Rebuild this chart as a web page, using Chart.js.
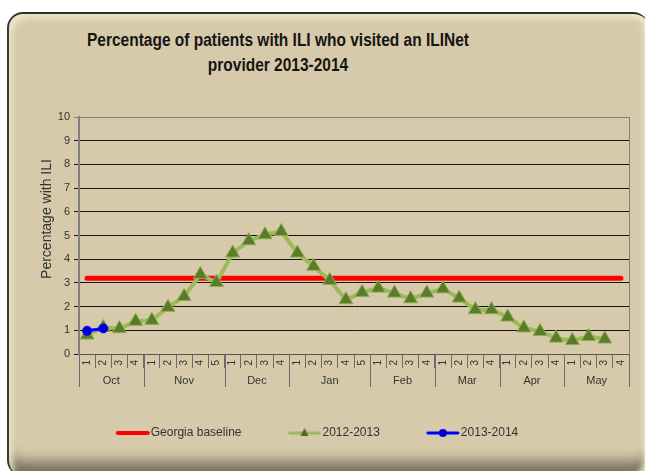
<!DOCTYPE html>
<html>
<head>
<meta charset="utf-8">
<script src="https://cdn.jsdelivr.net/npm/chart.js@4.4.1/dist/chart.umd.min.js"></script>
<style>
  body { margin: 0; background: #fff; width: 645px; height: 471px; overflow: hidden; position: relative; }
  #frame {
    position: absolute; left: 7px; top: 12px; width: 640px; height: 462px;
    border-radius: 16px; background: #D6CAAA;
    border-top: 2px solid #2e2e2a; border-left: 2px solid #3a3a34;
    box-shadow: inset 6px 6px 6px -2px #efe5c8, inset -7px 0 6px -2px #f6efd6, inset 0 -20px 14px -6px #6f6d5c;
  }
  #title {
    position: absolute; left: 0; top: 28px; width: 556px; text-align: center;
    font: bold 18px "Liberation Sans", Arial, sans-serif; line-height: 25px; color: #151515;
    transform: scaleX(0.86);
  }
  #chart { position: absolute; left: 0; top: 0; }
</style>
</head>
<body>
<div id="frame"></div>
<div id="title">Percentage of patients with ILI who visited an ILINet<br>provider 2013-2014</div>
<canvas id="chart" width="645" height="471"></canvas>
<script>
// weeks of the flu season, grouped by month
const weekLabels = ['1','2','3','4', '1','2','3','4','5', '1','2','3','4', '1','2','3','4','5',
                    '1','2','3','4', '1','2','3','4', '1','2','3','4', '1','2','3','4'];
const months = ['Oct', 'Nov', 'Dec', 'Jan', 'Feb', 'Mar', 'Apr', 'May'];
const weeksPerMonth = [4, 5, 4, 5, 4, 4, 4, 4];

const georgiaBaseline = [3.2,3.2,3.2,3.2, 3.2,3.2,3.2,3.2,3.2, 3.2,3.2,3.2,3.2, 3.2,3.2,3.2,3.2,3.2,
                         3.2,3.2,3.2,3.2, 3.2,3.2,3.2,3.2, 3.2,3.2,3.2,3.2, 3.2,3.2,3.2,3.2];
const season1213 = [0.8, 1.12, 1.07, 1.38,  1.42, 1.97, 2.43, 3.35, 3.02,  4.26, 4.78, 5.03, 5.17,
                    4.26, 3.7, 3.1, 2.29, 2.6,  2.78, 2.57, 2.33, 2.57,  2.75, 2.36, 1.87, 1.87,
                    1.56, 1.1, 0.95, 0.67,  0.57, 0.74, 0.63, null];
const season1314 = [0.98, 1.08];

const FONT = '"Liberation Sans", Arial, sans-serif';
const TEXT = '#333';

// little line+marker pictures for the legend
// (canvas is wider than the legend box so the line sits right against the text)
function legendIcon(color, width, marker) {
  const c = document.createElement('canvas');
  c.width = 44; c.height = 12;
  const ctx = c.getContext('2d');
  ctx.strokeStyle = color;
  ctx.lineWidth = width;
  ctx.lineCap = 'round';
  ctx.beginPath(); ctx.moveTo(12, 6); ctx.lineTo(42, 6); ctx.stroke();
  if (marker === 'triangle') {
    ctx.fillStyle = '#4f6a22';
    ctx.beginPath(); ctx.moveTo(27, 1); ctx.lineTo(31, 9); ctx.lineTo(23, 9); ctx.closePath(); ctx.fill();
  } else if (marker === 'circle') {
    ctx.fillStyle = '#0000cc';
    ctx.beginPath(); ctx.arc(27, 6, 4, 0, Math.PI * 2); ctx.fill();
  }
  return c;
}
const icons = [legendIcon('#ff0000', 4, null), legendIcon('#9bbb59', 3, 'triangle'), legendIcon('#0000ff', 3, 'circle')];

// month row under the week numbers, plus the y title and right border
const monthAxis = {
  id: 'monthAxis',
  afterDraw(chart) {
    const ctx = chart.ctx;
    const x = chart.scales.x;
    const area = chart.chartArea;
    const half = (x.getPixelForValue(1) - x.getPixelForValue(0)) / 2;
    ctx.save();
    ctx.strokeStyle = '#6b6b6b';
    ctx.lineWidth = 1;
    ctx.fillStyle = TEXT;
    ctx.font = '11px ' + FONT;
    ctx.textAlign = 'center';
    ctx.textBaseline = 'middle';
    let start = 0;
    for (let m = 0; m <= months.length; m++) {
      const px = Math.round(x.getPixelForValue(start) - half) + 0.5;
      ctx.beginPath(); ctx.moveTo(px, area.bottom); ctx.lineTo(px, area.bottom + 33); ctx.stroke();
      if (m < months.length) {
        const end = start + weeksPerMonth[m] - 1;
        const mid = (x.getPixelForValue(start) + x.getPixelForValue(end)) / 2;
        ctx.fillText(months[m], mid, area.bottom + 27);
        start += weeksPerMonth[m];
      }
    }
    // right border of the plot
    ctx.strokeStyle = '#808080';
    ctx.beginPath(); ctx.moveTo(area.right + 0.5, area.top); ctx.lineTo(area.right + 0.5, area.bottom); ctx.stroke();
    // y axis title
    ctx.translate(47, 219);
    ctx.rotate(-Math.PI / 2);
    ctx.font = '14px ' + FONT;
    ctx.fillText('Percentage with ILI', 0, 0);
    ctx.restore();
  }
};

new Chart(document.getElementById('chart'), {
  type: 'line',
  data: {
    labels: weekLabels,
    datasets: [{
      label: 'Georgia baseline',
      data: georgiaBaseline,
      borderColor: '#ff0000',
      borderWidth: 5,
      borderCapStyle: 'round',
      pointRadius: 0,
      order: 3
    }, {
      label: '2012-2013',
      data: season1213,
      borderColor: '#9bbb59',
      borderWidth: 4,
      pointStyle: 'triangle',
      pointRadius: 8,
      pointBackgroundColor: '#5b7a2a',
      pointBorderColor: '#8aac50',
      pointBorderWidth: 1,
      order: 2
    }, {
      label: '2013-2014',
      data: season1314,
      borderColor: '#0000ff',
      borderWidth: 3,
      pointStyle: 'circle',
      pointRadius: 4.5,
      pointBackgroundColor: '#0000dd',
      pointBorderColor: '#0000ff',
      pointBorderWidth: 1,
      order: 1
    }]
  },
  options: {
    responsive: false,
    animation: false,
    layout: { padding: { top: 117, left: 0, right: 16, bottom: 22 } },
    plugins: {
      legend: {
        position: 'bottom',
        labels: {
          usePointStyle: true,
          pointStyleWidth: 34,
          boxHeight: 12,
          padding: 41,
          color: TEXT,
          font: { size: 12, family: FONT },
          generateLabels(chart) {
            const items = Chart.defaults.plugins.legend.labels.generateLabels(chart);
            items.forEach(item => { item.pointStyle = icons[item.datasetIndex]; });
            return items;
          },
          sort: (a, b) => a.datasetIndex - b.datasetIndex
        }
      },
      tooltip: { enabled: false }
    },
    scales: {
      x: {
        offset: true,
        afterFit(scale) { scale.height = 32; },
        grid: { offset: true, drawOnChartArea: false, tickLength: 14, color: '#6b6b6b' },
        border: { color: '#555', width: 1 },
        ticks: {
          autoSkip: false, minRotation: 90, maxRotation: 90, padding: -8,
          color: TEXT, font: { size: 10, family: FONT }
        }
      },
      y: {
        min: 0,
        max: 10,
        afterFit(scale) { scale.width = 79; },
        grid: {
          tickLength: 5,
          color: ctx => ctx.tick && ctx.tick.value === 10 ? '#808080' : '#141414'
        },
        border: { color: '#808080', width: 2 },
        ticks: { stepSize: 1, padding: 4, color: TEXT, font: { size: 11, family: FONT } }
      }
    }
  },
  plugins: [monthAxis]
});
</script>
</body>
</html>
